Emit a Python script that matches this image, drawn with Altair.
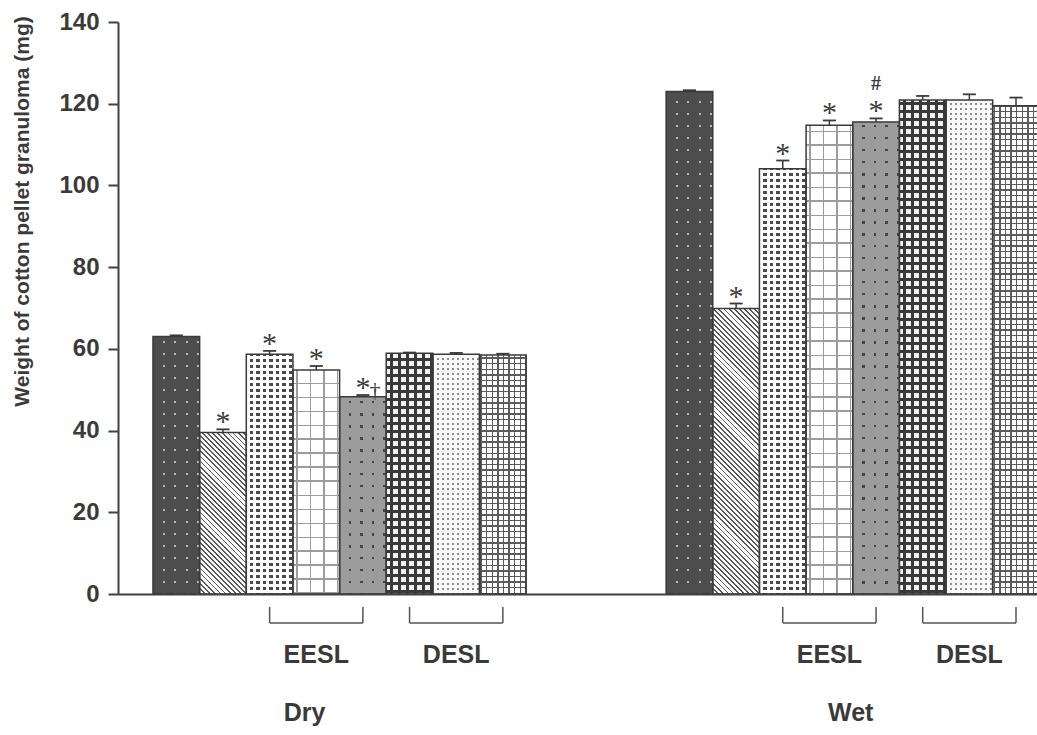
import math

import altair as alt
import pandas as pd

# ---- data -------------------------------------------------------------
groups = ["Dry", "Wet"]
dry_weight = [63.0, 39.5, 58.7, 54.8, 48.3, 58.9, 58.7, 58.5]
dry_sem = [0.3, 0.8, 0.8, 1.0, 0.4, 0.2, 0.3, 0.3]
wet_weight = [123.0, 69.9, 104.1, 114.7, 115.5, 120.9, 120.9, 119.5]
wet_sem = [0.3, 1.2, 2.0, 1.2, 0.9, 1.0, 1.4, 2.0]

# significance symbols: (group, bar index)
star_marks = [("Dry", 1), ("Dry", 2), ("Dry", 3), ("Dry", 4),
              ("Wet", 1), ("Wet", 2), ("Wet", 3), ("Wet", 4)]
dagger_marks = [("Dry", 4)]
hash_marks = [("Wet", 4)]

# extract brackets: (label, first bar, last bar)
extract_groups = [("EESL", 2, 4), ("DESL", 5, 7)]

y_ticks = [0, 20, 40, 60, 80, 100, 120, 140]
y_title = "Weight of cotton pellet granuloma (mg)"

# ---- layout -----------------------------------------------------------
PLOT_W, PLOT_H = 919, 572
X_MIN, X_MAX = -0.75, 18.95
Y_MAX = 140
GROUP_START = {"Dry": 0, "Wet": 11}
SLOT_PX = PLOT_W / (X_MAX - X_MIN)
PX_PER_MG = PLOT_H / Y_MAX

INK = "#3a3a3a"
AXIS_INK = "#404040"
CLEAR = "rgba(255,255,255,0)"
SANS = "Liberation Sans"
SERIF = "Liberation Serif"

rows = []
for g, vals, errs in (("Dry", dry_weight, dry_sem), ("Wet", wet_weight, wet_sem)):
    for i, (v, e) in enumerate(zip(vals, errs)):
        s = GROUP_START[g] + i
        rows.append(dict(key=f"{g}-{i}", group=g, idx=i, x0=s, x1=s + 1,
                         xc=s + 0.5, cl=s + 0.5 - 0.14, cr=s + 0.5 + 0.14,
                         weight=v, top=v + e, zero=0))
bars = pd.DataFrame(rows)


def marks_df(pairs, sym):
    d = bars.set_index("key").loc[[f"{g}-{i}" for g, i in pairs]].reset_index()
    d["sym"] = sym
    return d


brk_rows = []
for g in groups:
    for lab, a, b in extract_groups:
        xa = GROUP_START[g] + a + 0.5
        xb = GROUP_START[g] + b + 0.5
        brk_rows.append(dict(label=lab, xa=xa, xb=xb, xm=(xa + xb) / 2))
brackets = pd.DataFrame(brk_rows)

grp_labels = pd.DataFrame([dict(label=g, xm=GROUP_START[g] + 4) for g in groups])

# ---- scales / axes ----------------------------------------------------
xs = alt.Scale(domain=[X_MIN, X_MAX], nice=False, zero=False)
ys = alt.Scale(domain=[0, Y_MAX], nice=False)
X_AX = alt.Axis(labels=False, ticks=False, grid=False, title=None,
                domainColor=AXIS_INK, domainWidth=2, zindex=1)
Y_AX = alt.Axis(values=y_ticks, grid=False, tickSize=10, tickWidth=2,
                tickColor=AXIS_INK, domainColor=AXIS_INK, domainWidth=2,
                labelFont=SANS, labelFontSize=24, labelFontWeight="bold",
                labelColor=INK, labelPadding=9, zindex=1,
                title=y_title, titleFont=SANS, titleFontSize=21,
                titleFontWeight="bold", titleColor=INK, titleAngle=270,
                titleX=-96, titleY=189, titleAlign="center",
                titleBaseline="middle")


def X(f):
    return alt.X(f"{f}:Q", scale=xs, axis=X_AX)


def Y(f):
    return alt.Y(f"{f}:Q", scale=ys, axis=Y_AX)


# ---- hatch fills built from hard-stop linear gradients ----------------
def band_stops(length, period, on, on_color, off_color, phase=0.0):
    stops = []
    k = -1
    while True:
        s = phase + k * period
        if s >= length:
            break
        for a, b, c in ((s, s + on, on_color), (s + on, s + period, off_color)):
            a, b = max(a, 0.0), min(b, length)
            if b > a:
                stops.append({"offset": round(a / length, 5), "color": c})
                stops.append({"offset": round(b / length, 5), "color": c})
        k += 1
    return stops


def across(W, stops):
    return {"gradient": "linear", "x1": 0, "y1": 0, "x2": 1, "y2": 0, "stops": stops}


def upward(stops):
    return {"gradient": "linear", "x1": 0, "y1": 1, "x2": 0, "y2": 0, "stops": stops}


def dots(W, H, bg, fg, px, py, dw, dh):
    return [fg,
            upward(band_stops(H, py, py - dh, bg, CLEAR, phase=1.0)),
            across(W, band_stops(W, px, px - dw, bg, CLEAR, phase=(W % px) / 2))]


def grid(W, H, bg, fg, px, py, lw):
    return [bg,
            across(W, band_stops(W, px, lw, fg, CLEAR, phase=(W % px) / 2)),
            upward(band_stops(H, py, lw, fg, CLEAR))]


def hatch(W, H, bg, fg, p, lw):
    k = (W + H) / (W * W + H * H)
    L = (W + H) / math.sqrt(2)
    g = {"gradient": "linear", "x1": 0, "y1": 1, "x2": round(W * k, 6),
         "y2": round(1 - H * k, 6), "stops": band_stops(L, p, lw, fg, bg)}
    return [bg, g]


def pattern(idx, W, H):
    if idx == 0:
        return dots(W, H, "#4d4d4d", "#b9b9b9", 11.5, 12, 2, 2)
    if idx == 1:
        return hatch(W, H, "#ffffff", "#5a5a5a", 3.6, 1.3)
    if idx == 2:
        return dots(W, H, "#ffffff", "#4a4a4a", 6.5, 6, 3.4, 2.8)
    if idx == 3:
        return grid(W, H, "#ffffff", "#9c9c9c", 13.5, 14, 1.5)
    if idx == 4:
        return dots(W, H, "#9c9c9c", "#454545", 11.5, 12, 2.5, 2.5)
    if idx == 5:
        return dots(W, H, "#383838", "#f2f2f2", 8, 8, 5, 5)
    if idx == 6:
        return dots(W, H, "#fafafa", "#8c8c8c", 5, 5, 1.6, 1.6)
    return grid(W, H, "#ffffff", "#5c5c5c", 5.6, 5.6, 1.4)


layers = []
for r in rows:
    W = SLOT_PX
    H = r["weight"] * PX_PER_MG
    for fill in pattern(r["idx"], W, H):
        layers.append(
            alt.Chart(bars).transform_filter(alt.datum.key == r["key"])
            .mark_rect(fill=fill)
            .encode(x=X("x0"), x2="x1:Q", y=Y("weight"), y2="zero:Q")
        )

# bar outlines
layers.append(
    alt.Chart(bars).mark_rect(fill="white", fillOpacity=0, stroke=INK, strokeWidth=1.5)
    .encode(x=X("x0"), x2="x1:Q", y=Y("weight"), y2="zero:Q")
)

# error bars with caps
layers.append(
    alt.Chart(bars).mark_rule(color=INK, strokeWidth=1.5)
    .encode(x=X("xc"), y=Y("weight"), y2="top:Q")
)
layers.append(
    alt.Chart(bars).mark_rule(color=INK, strokeWidth=1.8)
    .encode(x=X("cl"), x2="cr:Q", y=Y("top"))
)

# significance symbols
layers.append(
    alt.Chart(marks_df(star_marks, "*"))
    .mark_text(font=SERIF, fontSize=30, color=INK, baseline="alphabetic", dy=2)
    .encode(x=X("xc"), y=Y("top"), text="sym:N")
)
layers.append(
    alt.Chart(marks_df(dagger_marks, "\u2020"))
    .mark_text(font=SERIF, fontSize=22, color=INK, baseline="alphabetic", dx=12, dy=2)
    .encode(x=X("xc"), y=Y("top"), text="sym:N")
)
layers.append(
    alt.Chart(marks_df(hash_marks, "#"))
    .mark_text(font=SERIF, fontSize=20, fontWeight="bold", color=INK,
               baseline="alphabetic", dy=-28)
    .encode(x=X("xc"), y=Y("top"), text="sym:N")
)

# extract brackets under the axis
BRK_TOP, BRK_BOT = PLOT_H + 13, PLOT_H + 29
layers.append(
    alt.Chart(brackets).mark_rule(color="#555555", strokeWidth=1.5)
    .encode(x=X("xa"), x2="xb:Q", y=alt.value(BRK_BOT))
)
for f in ("xa", "xb"):
    layers.append(
        alt.Chart(brackets).mark_rule(color="#555555", strokeWidth=1.5)
        .encode(x=X(f), y=alt.value(BRK_TOP), y2=alt.value(BRK_BOT))
    )
layers.append(
    alt.Chart(brackets)
    .mark_text(font=SANS, fontSize=25, fontWeight="bold", color=INK, baseline="alphabetic")
    .encode(x=X("xm"), y=alt.value(PLOT_H + 69), text="label:N")
)

# Dry / Wet group captions
for g, shift in (("Dry", -35), ("Wet", -2)):
    layers.append(
        alt.Chart(grp_labels).transform_filter(alt.datum.label == g)
        .mark_text(font=SANS, fontSize=25, fontWeight="bold", color=INK,
                   baseline="alphabetic", dx=shift)
        .encode(x=X("xm"), y=alt.value(PLOT_H + 127), text="label:N")
    )

chart = (
    alt.layer(*layers)
    .properties(width=PLOT_W, height=PLOT_H,
                padding={"left": 118, "top": 22, "right": 0, "bottom": 141},
                autosize=alt.AutoSizeParams(type="none"),
                background="white")
    .configure_view(stroke=None)
)

chart.save("out.html", embed_options={"renderer": "svg", "actions": False})
